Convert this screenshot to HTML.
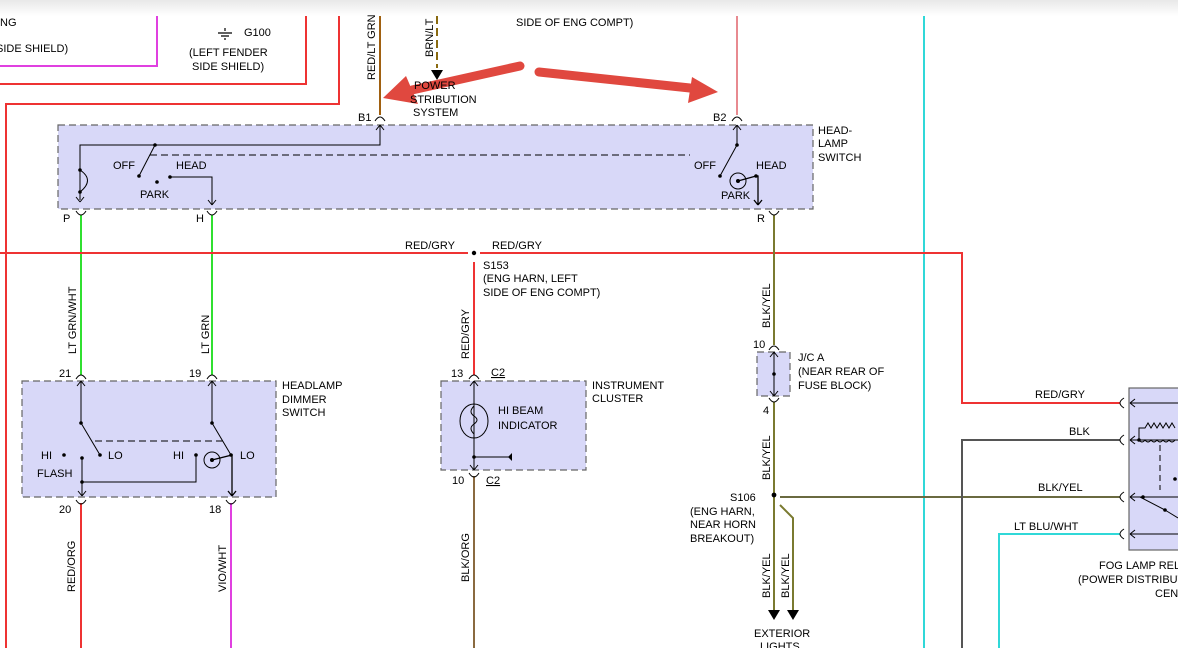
<!DOCTYPE html>
<html><head><meta charset="utf-8"><style>
html,body{margin:0;padding:0;background:#fff;}
svg{display:block;font-family:"Liberation Sans",Arial,sans-serif;font-size:11px;}
</style></head><body>
<svg width="1178" height="648" viewBox="0 0 1178 648" xmlns="http://www.w3.org/2000/svg">
<defs>
<linearGradient id="tg" x1="0" y1="0" x2="0" y2="1"><stop offset="0" stop-color="#e8e8e8"/><stop offset="1" stop-color="#fff"/></linearGradient>
</defs>
<rect x="0" y="0" width="1178" height="16" fill="url(#tg)"/>
<g fill="none" stroke-width="2">
<path d="M0,66 H157 V16" stroke="#e040e0"/>
<path d="M0,84 H306 V16" stroke="#e33"/>
<path d="M6,648 V104 H339 V16" stroke="#e33"/>
<path d="M380,16 V115" stroke="#a06010"/>
<path d="M437,16 V68" stroke="#8a6a10" stroke-dasharray="8,4"/>
<path d="M737,16 V115" stroke="#e88a90"/>
<path d="M924,16 V648" stroke="#30d8d8"/>
</g>
<g fill="#d8d8f8" stroke="#666" stroke-width="1.2" stroke-dasharray="7,4">
<rect x="58" y="125" width="755" height="84"/>
<rect x="22" y="381" width="254" height="116"/>
<rect x="441" y="381" width="145" height="89"/>
<rect x="757" y="352" width="33" height="44"/>
</g>
<rect x="1129" y="388" width="60" height="162" fill="#d8d8f8" stroke="#666" stroke-width="1.2"/>
<g fill="none" stroke-width="2">
<path d="M81,215 V375" stroke="#30e030"/>
<path d="M212,215 V375" stroke="#30e030"/>
<path d="M0,253 H468 M480,253 H962 V403 H1120" stroke="#e33"/>
<path d="M474,262 V375" stroke="#e33"/>
<path d="M774,215 V345 M774,402 V610" stroke="#7a7a30"/>
<path d="M780,497 H1120" stroke="#6a6a40"/>
<path d="M780,505 L793,518 V610" stroke="#7a7a30"/>
<path d="M962,648 V440 H1120" stroke="#555"/>
<path d="M999,648 V534 H1120" stroke="#30d8d8"/>
<path d="M81,503 V648" stroke="#e33"/>
<path d="M231,503 V648" stroke="#e040e0"/>
<path d="M474,476 V648" stroke="#8a6a40"/>
</g>
<g fill="none" stroke="#000" stroke-width="1">
<path d="M375,121 Q380,113 385,121 M732,121 Q737,113 742,121"/>
<path d="M76,211 Q81,219 86,211 M207,211 Q212,219 217,211 M769,211 Q774,219 779,211"/>
<path d="M76,379 Q81,371 86,379 M207,379 Q212,371 217,379 M469,379 Q474,371 479,379 M769,350 Q774,342 779,350"/>
<path d="M76,500 Q81,508 86,500 M226,500 Q231,508 236,500 M469,473 Q474,481 479,473 M769,398 Q774,406 779,398"/>
<path d="M1124,398 Q1116,403 1124,408 M1124,435 Q1116,440 1124,445 M1124,492 Q1116,497 1124,502 M1124,529 Q1116,534 1124,539"/>
<path d="M380,125 V145 H80 V200"/>
<path d="M80,202 l-4,-5 M80,202 l4,-5"/>
<path d="M380,125 l-4,5 M380,125 l4,5"/>
<path d="M80,170 Q95,180 80,192"/>
<path d="M155,145 L139,176"/>
<path d="M170,177 H212 V205 M212,205 l-4,-5 M212,205 l4,-5"/>
<path d="M150,155 H690" stroke-dasharray="7,4"/>
<path d="M737,125 V145 L720,176 M737,125 l-4,5 M737,125 l4,5"/>
<circle cx="738" cy="181" r="8"/>
<path d="M738,181 L756,176 H758 V205 M758,205 l-4,-5 M758,205 l4,-5" stroke-width="1.3"/>
<path d="M81,381 V423 L100,455 M81,381 l-4,5 M81,381 l4,5"/>
<path d="M212,381 V423 L231,455 M212,381 l-4,5 M212,381 l4,5"/>
<path d="M95,441 H225" stroke-dasharray="7,4"/>
<path d="M82,458 V496 M82,496 l-4,-5 M82,496 l4,-5 M82,482 H196 V455"/>
<circle cx="212" cy="460" r="8"/>
<path d="M212,460 L232,455 V496 M232,496 l-4,-5 M232,496 l4,-5" stroke-width="1.3"/>
<path d="M474,381 V470 M474,381 l-4,5 M474,381 l4,5 M474,470 l-4,-5 M474,470 l4,-5 M474,457 H510"/>
<ellipse cx="474" cy="421" rx="14" ry="17"/>
<path d="M474,406 q-6,6 0,10 q6,4 0,8 q-6,4 0,10"/>
<path d="M774,352 V396 M774,352 l-4,5 M774,352 l4,5 M774,396 l-4,-5 M774,396 l4,-5"/>
<path d="M1130,403 H1178 M1130,403 l5,-4 M1130,403 l5,4 M1130,440 H1178 M1130,440 l5,-4 M1130,440 l5,4 M1130,497 H1178 M1130,497 l5,-4 M1130,497 l5,4 M1130,534 H1178 M1130,534 l5,-4 M1130,534 l5,4"/>
<path d="M1139,440 V428 H1145 l3,-5 l3,5 l3,-5 l3,5 l3,-5 l3,5 l3,-5 l3,5 l3,-5 l3,5"/>
<path d="M1139,440 q3,4 6,0 q3,4 6,0 q3,4 6,0 q3,4 6,0 q3,4 6,0 q3,4 6,0"/>
<path d="M1160,445 V490" stroke-dasharray="6,4"/>
<path d="M1140,497 L1165,510 L1178,518"/>
</g>
<g fill="#000">
<circle cx="155" cy="145" r="1.8"/><circle cx="139" cy="176" r="1.8"/><circle cx="157" cy="182" r="1.8"/><circle cx="170" cy="177" r="1.8"/>
<circle cx="80" cy="170" r="1.8"/><circle cx="80" cy="192" r="1.8"/>
<circle cx="737" cy="145" r="1.8"/><circle cx="720" cy="176" r="1.8"/><circle cx="738" cy="181" r="2"/><circle cx="756" cy="176" r="1.8"/>
<circle cx="81" cy="423" r="1.8"/><circle cx="100" cy="455" r="1.8"/><circle cx="64" cy="455" r="1.8"/><circle cx="82" cy="458" r="1.8"/><circle cx="82" cy="482" r="1.8"/>
<circle cx="212" cy="423" r="1.8"/><circle cx="196" cy="455" r="1.8"/><circle cx="231" cy="455" r="1.8"/><circle cx="212" cy="460" r="2"/>
<circle cx="474" cy="457" r="1.8"/><path d="M512,453 L508,457 L512,461 Z"/>
<circle cx="774" cy="374" r="1.8"/>
<circle cx="474" cy="253" r="2.2"/><circle cx="774" cy="495" r="2.4"/>
<circle cx="1139" cy="440" r="1.8"/><circle cx="1143" cy="497" r="1.8"/><circle cx="1175" cy="479" r="1.8"/><circle cx="1165" cy="510" r="1.8"/>
<path d="M431,70 L443,70 L437,80 Z"/>
<path d="M768,610 L780,610 L774,620 Z M787,610 L799,610 L793,620 Z"/>
<path d="M225,28 v3 M218,33 h14 M221,36 h8 M224,39 h2" stroke="#000" stroke-width="1.2"/>
</g>
<g stroke="#e0483f" stroke-width="9" stroke-linecap="round" fill="none">
<path d="M520,66 L412,90"/>
<path d="M539,72 L690,88"/>
</g>
<g fill="#e0483f">
<path d="M383,98 L406,76 L418,104 Z"/>
<path d="M718,92 L692,77 L688,103 Z"/>
</g>
<g fill="#000">
<text x="0" y="26">NG</text>
<text x="-4" y="52">SIDE SHIELD)</text>
<text x="244" y="36">G100</text>
<text x="189" y="56">(LEFT FENDER</text>
<text x="192" y="70">SIDE SHIELD)</text>
<text x="516" y="26">SIDE OF ENG COMPT)</text>
<text transform="translate(375,80) rotate(-90)">RED/LT GRN</text>
<text transform="translate(433,57) rotate(-90)">BRN/LT</text>
<text x="414" y="89">POWER</text>
<text x="410" y="103">STRIBUTION</text>
<text x="413" y="116">SYSTEM</text>
<text x="358" y="121">B1</text>
<text x="713" y="121">B2</text>
<text x="818" y="134">HEAD-</text>
<text x="818" y="147">LAMP</text>
<text x="818" y="161">SWITCH</text>
<text x="113" y="169">OFF</text>
<text x="176" y="169">HEAD</text>
<text x="140" y="198">PARK</text>
<text x="694" y="169">OFF</text>
<text x="756" y="169">HEAD</text>
<text x="721" y="199">PARK</text>
<text x="63" y="222">P</text>
<text x="196" y="222">H</text>
<text x="757" y="222">R</text>
<text x="405" y="249">RED/GRY</text>
<text x="492" y="249">RED/GRY</text>
<text x="483" y="269">S153</text>
<text x="483" y="282">(ENG HARN, LEFT</text>
<text x="483" y="296">SIDE OF ENG COMPT)</text>
<text transform="translate(76,354) rotate(-90)">LT GRN/WHT</text>
<text transform="translate(209,354) rotate(-90)">LT GRN</text>
<text transform="translate(469,359) rotate(-90)">RED/GRY</text>
<text transform="translate(770,328) rotate(-90)">BLK/YEL</text>
<text x="59" y="377">21</text>
<text x="189" y="377">19</text>
<text x="451" y="377">13</text>
<text x="491" y="376" text-decoration="underline">C2</text>
<text x="753" y="348">10</text>
<text x="798" y="361">J/C A</text>
<text x="798" y="375">(NEAR REAR OF</text>
<text x="798" y="389">FUSE BLOCK)</text>
<text x="763" y="414">4</text>
<text x="282" y="389">HEADLAMP</text>
<text x="282" y="403">DIMMER</text>
<text x="282" y="416">SWITCH</text>
<text x="592" y="389">INSTRUMENT</text>
<text x="592" y="402">CLUSTER</text>
<text x="498" y="414">HI BEAM</text>
<text x="498" y="429">INDICATOR</text>
<text x="41" y="459">HI</text>
<text x="108" y="459">LO</text>
<text x="173" y="459">HI</text>
<text x="240" y="459">LO</text>
<text x="37" y="477">FLASH</text>
<text x="59" y="513">20</text>
<text x="209" y="513">18</text>
<text x="452" y="484">10</text>
<text x="486" y="484" text-decoration="underline">C2</text>
<text transform="translate(75,592) rotate(-90)">RED/ORG</text>
<text transform="translate(226,592) rotate(-90)">VIO/WHT</text>
<text transform="translate(469,582) rotate(-90)">BLK/ORG</text>
<text transform="translate(770,480) rotate(-90)">BLK/YEL</text>
<text x="730" y="501">S106</text>
<text x="690" y="515">(ENG HARN,</text>
<text x="690" y="528">NEAR HORN</text>
<text x="690" y="542">BREAKOUT)</text>
<text transform="translate(770,598) rotate(-90)">BLK/YEL</text>
<text transform="translate(789,598) rotate(-90)">BLK/YEL</text>
<text x="754" y="637">EXTERIOR</text>
<text x="760" y="650">LIGHTS</text>
<text x="1035" y="398">RED/GRY</text>
<text x="1069" y="435">BLK</text>
<text x="1038" y="491">BLK/YEL</text>
<text x="1014" y="530">LT BLU/WHT</text>
<text x="1099" y="569">FOG LAMP RELAY</text>
<text x="1078" y="583">(POWER DISTRIBUTION</text>
<text x="1155" y="597">CENTER)</text>
</g>
</svg>
</body></html>
